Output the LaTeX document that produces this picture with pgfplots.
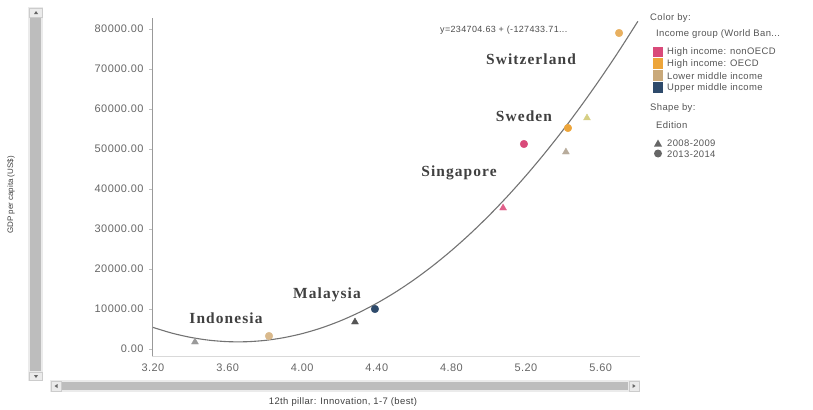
\documentclass[border=0pt]{standalone}
\usepackage{fontspec}
\setmainfont{Liberation Sans}
\newfontfamily\labfont[LetterSpace=7]{Liberation Serif}
\newfontfamily\lsans[LetterSpace=4]{Liberation Sans}
\usepackage{pgfplots}
\pgfplotsset{compat=1.18}
\definecolor{cpink}{HTML}{D94A7A}
\definecolor{cpinkt}{HTML}{E0608A}
\definecolor{corange}{HTML}{EDA53A}
\definecolor{corange2}{HTML}{E8B060}
\definecolor{ctan}{HTML}{D9B98C}
\definecolor{cblue}{HTML}{2E4A6B}
\definecolor{cgray}{HTML}{9A9A9A}
\definecolor{cdgray}{HTML}{555555}
\definecolor{ctgray}{HTML}{B8AC9C}
\definecolor{ckhaki}{HTML}{D6CF84}
\definecolor{ltan}{HTML}{C9A97A}
\definecolor{txt}{HTML}{555555}
\definecolor{bar}{HTML}{BDBDBD}
\begin{document}
\begin{tikzpicture}
\path[use as bounding box] (0bp,0bp) rectangle (813bp,-410bp);
\begin{axis}[
  at={(152bp,-356bp)}, anchor=south west,
  scale only axis, width=488bp, height=338bp,
  xmin=3.1946, xmax=5.8113, ymin=-1750, ymax=82750,
  axis x line*=bottom, axis y line*=left,
  x axis line style={-, draw=black!15},
  y axis line style={-, draw=black!40},
  xtick={3.2,3.6,4.0,4.4,4.8,5.2,5.6},
  ytick={0,10000,20000,30000,40000,50000,60000,70000,80000},
  scaled y ticks=false, scaled x ticks=false,
  tick align=outside, major tick length=3bp,
  xtick style={draw=none},
  ytick style={draw=black!25},
  tick label style={font=\fontsize{11}{12}\selectfont\lsans, text=black!60},
  xticklabel style={yshift=-1bp},
  yticklabel style={xshift=-2bp},
  /pgf/number format/.cd, fixed, fixed zerofill, precision=2, 1000 sep={}, assume math mode=true,
  /pgfplots/.cd,
  clip=true,
]
% trend line y = 234704.63 - 127433.71 x + c x^2
\addplot[smooth, no markers, draw=black!55, line width=1.1bp] coordinates {
(3.2,5400) (3.3,3986) (3.4,2921) (3.5,2204) (3.6,1836) (3.7,1817) (3.8,2146)
(3.9,2824) (4.0,3850) (4.1,5225) (4.2,6948) (4.3,9020) (4.4,11441) (4.5,14210)
(4.6,17328) (4.7,20795) (4.8,24610) (4.9,28774) (5.0,33286) (5.1,38147)
(5.2,43357) (5.3,48915) (5.4,54821) (5.5,61077) (5.6,67681) (5.7,74633) (5.8,81934)};
% 2008-2009 (triangles)
\addplot[only marks, mark=triangle*, mark size=4bp, draw=cgray, fill=cgray] coordinates {(3.425,1750)};
\addplot[only marks, mark=triangle*, mark size=4bp, draw=cdgray, fill=cdgray] coordinates {(4.283,6750)};
\addplot[only marks, mark=triangle*, mark size=4bp, draw=cpinkt, fill=cpinkt] coordinates {(5.077,35250)};
\addplot[only marks, mark=triangle*, mark size=4bp, draw=ctgray, fill=ctgray] coordinates {(5.414,49250)};
\addplot[only marks, mark=triangle*, mark size=4bp, draw=ckhaki, fill=ckhaki] coordinates {(5.527,57750)};
% 2013-2014 (circles)
\addplot[only marks, mark=*, mark size=3.8bp, draw=ctan, fill=ctan] coordinates {(3.822,3250)};
\addplot[only marks, mark=*, mark size=3.8bp, draw=cblue, fill=cblue] coordinates {(4.390,10000)};
\addplot[only marks, mark=*, mark size=3.8bp, draw=cpink, fill=cpink] coordinates {(5.189,51250)};
\addplot[only marks, mark=*, mark size=3.8bp, draw=corange, fill=corange] coordinates {(5.425,55250)};
\addplot[only marks, mark=*, mark size=3.8bp, draw=corange2, fill=corange2] coordinates {(5.699,79000)};
\end{axis}
\begin{scope}[x=1bp,y=1bp]
% country labels
\begin{scope}[every node/.style={font=\fontsize{15.5}{17}\selectfont\labfont\bfseries, text=black!75}]
\node at (531,-59) {Switzerland};
\node at (524,-116) {Sweden};
\node at (459,-173) {Singapore};
\node at (327,-295) {Malaysia};
\node at (226,-318) {Indonesia};
\end{scope}
% equation
\node[anchor=west, font=\fontsize{9}{10}\selectfont\lsans, text=black!70, inner sep=0] at (440,-30) {y=234704.63 + (-127433.71...};
% axis titles
\node[rotate=90, font=\fontsize{8}{9}\selectfont, text=black!75] at (11,-195) {GDP per capita (US\$)};
\node[font=\fontsize{9.5}{11}\selectfont\lsans, text=black!75] at (343,-402) {12th pillar: Innovation, 1-7 (best)};
% scrollbars
\fill[black!8] (28,-7) rectangle (43,-381);
\fill[bar] (30,-18) rectangle (41,-371);
\draw[black!20] (29.5,-8) rectangle (42.5,-17);
\fill[black!60] (34,-14) -- (38,-14) -- (36,-11) -- cycle;
\draw[black!20] (29.5,-372) rectangle (42.5,-380);
\fill[black!60] (34,-375) -- (38,-375) -- (36,-378) -- cycle;
\fill[black!8] (50,-380) rectangle (640,-392);
\fill[bar] (62,-382) rectangle (628,-390);
\draw[black!20] (51,-381) rectangle (61,-391);
\fill[black!60] (57.5,-384) -- (57.5,-388) -- (54.5,-386) -- cycle;
\draw[black!20] (629,-381) rectangle (639,-391);
\fill[black!60] (632.5,-384) -- (632.5,-388) -- (635.5,-386) -- cycle;
% legend
\begin{scope}[every node/.style={anchor=west, inner sep=0, font=\fontsize{9.5}{11}\selectfont\lsans, text=txt}]
\node at (650,-18) {Color by:};
\node at (656,-34) {Income group (World Ban...};
\fill[cpink] (653,-47) rectangle (663,-57);
\fill[corange] (653,-58) rectangle (663,-69);
\fill[ltan] (653,-70) rectangle (663,-81);
\fill[cblue] (653,-82) rectangle (663,-93);
\node at (667,-52) {High income: nonOECD};
\node at (667,-64) {High income: OECD};
\node at (667,-76) {Lower middle income};
\node at (667,-88) {Upper middle income};
\node at (650,-108) {Shape by:};
\node at (656,-125) {Edition};
\fill[black!60] (654,-146.5) -- (662,-146.5) -- (658,-139.5) -- cycle;
\fill[black!60] (658,-153.5) circle (4);
\node at (667,-143) {2008-2009};
\node at (667,-154) {2013-2014};
\end{scope}
\end{scope}
\end{tikzpicture}
\end{document}
